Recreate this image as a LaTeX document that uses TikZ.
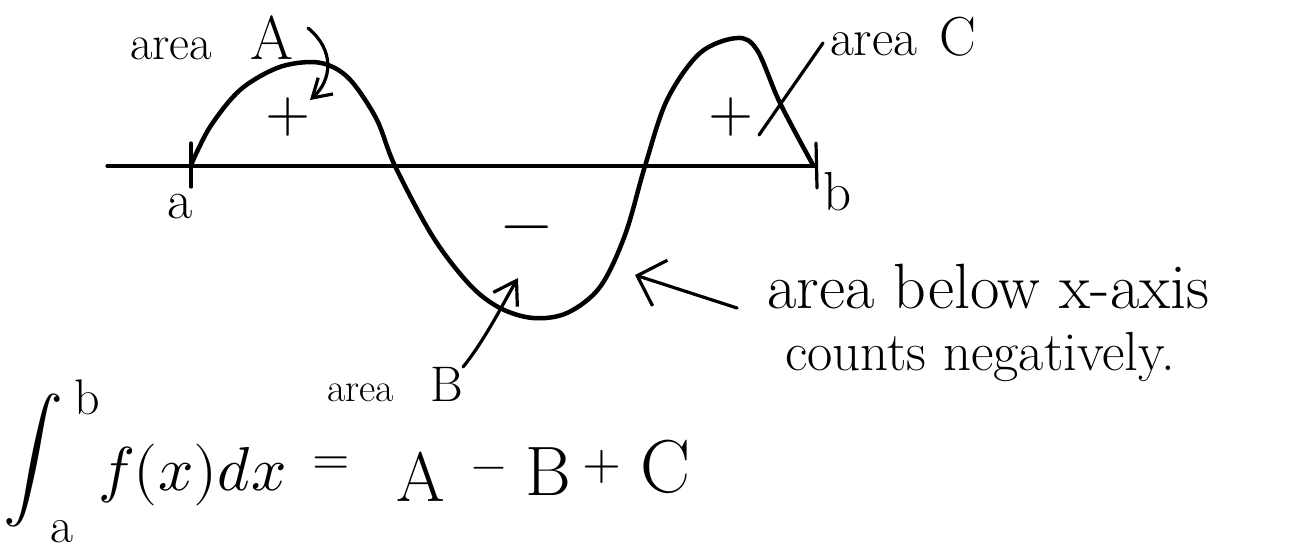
\documentclass[tikz,border=0pt]{standalone}
\usepackage{unicode-math}
\setmathfont{Latin Modern Math}
\usetikzlibrary{arrows.meta}
\newcommand\hfs[1]{\fontsize{#1}{#1}\selectfont}
\begin{document}
\begin{tikzpicture}[x=1pt,y=-1pt,line cap=round,line join=round,
  curve/.style={line width=4.5pt},
  axisline/.style={line width=3.2pt},
  pointer/.style={line width=3.2pt},
  lbl/.style={inner sep=0pt,outer sep=0pt}]
\useasboundingbox (0,0) rectangle (1289,550);
% axis and ticks
\coordinate (ax0) at (107,166);
\coordinate (ax1) at (815,166);
\draw[axisline] (ax0) -- (ax1);
\coordinate (ta1) at (191,143); \coordinate (ta2) at (191,187);
\draw[axisline] (ta1) -- (ta2);
\coordinate (tb1) at (816,143); \coordinate (tb2) at (817,188);
\draw[axisline] (tb1) -- (tb2);
\node[lbl,font=\hfs{55}] (labA) at (180,207) {a};
\node[lbl,font=\hfs{55}] (labB) at (838,192) {b};
% the function
\draw[curve] plot[smooth,tension=0.55] coordinates {(191,165) (210,127) (240,90) (277,68) (310,62) (333,67) (353,83) (377,120) (395,166) (433,237) (470,285) (500,308) (533,318) (567,313) (600,287) (625,235) (645,166) (667,100) (700,53) (737,38) (757,50) (780,103) (813,165)};
% signs
\node[lbl,font=\hfs{58}] (plusA) at (288,117) {$+$};
\node[lbl,font=\hfs{58}] (plusC) at (731,117) {$+$};
\node[lbl,font=\hfs{65}] (minusB) at (527,235) {$-$};
% area A
\node[lbl,anchor=base west] (areaA) at (130,59) {{\hfs{49}area}\hspace{38pt}{\hfs{62}A}};
\coordinate (aTail) at (308,28); \coordinate (aTip) at (310,100);
\draw[pointer,-{Straight Barb[length=18pt,width=22pt]}] (aTail) .. controls (335,50) and (332,80) .. (aTip);
% area C
\node[lbl,anchor=base west] (areaC) at (830,55) {{\hfs{52}area}\hspace{22pt}{\hfs{55}C}};
\coordinate (cStart) at (823,43); \coordinate (cEnd) at (759,135);
\draw[pointer] (cStart) -- (cEnd);
% area B
\node[lbl,anchor=base west] (areaB) at (327,401) {{\hfs{40}area}\hspace{36pt}{\hfs{50}B}};
\coordinate (bTail) at (463,367); \coordinate (bTip) at (518,278);
\draw[pointer,-{Straight Barb[length=22pt,width=28pt]}] (bTail) .. controls (485,340) and (505,300) .. (bTip);
% note
\node[lbl,anchor=base west,font=\hfs{64}] (note1) at (767,308) {area below x-axis};
\node[lbl,anchor=base west,font=\hfs{55}] (note2) at (785,370) {counts negatively.};
\coordinate (nTail) at (737,308); \coordinate (nTip) at (635,275);
\draw[pointer,-{Straight Barb[length=24pt,width=48pt]}] (nTail) -- (nTip);
% formula
\node[lbl,font=\hfs{60}] (intS) at (33,460) {$\displaystyle\int$};
\node[lbl,font=\hfs{50}] (intB) at (87,397) {b};
\node[lbl,font=\hfs{50}] (intA) at (62,532) {a};
\node[lbl,anchor=base west,font=\hfs{62}] (fx) at (98,490) {$f(x)dx$};
\node[lbl,font=\hfs{48}] (eq) at (331,466) {$=$};
\node[lbl,font=\hfs{70}] (fA) at (421,477) {A};
\node[lbl,font=\hfs{45}] (fm) at (489,473) {$-$};
\node[lbl,font=\hfs{70}] (fB) at (548,472) {B};
\node[lbl,font=\hfs{50}] (fp) at (602,467) {$+$};
\node[lbl,font=\hfs{75}] (fC) at (666,467) {C};
\end{tikzpicture}
\end{document}
